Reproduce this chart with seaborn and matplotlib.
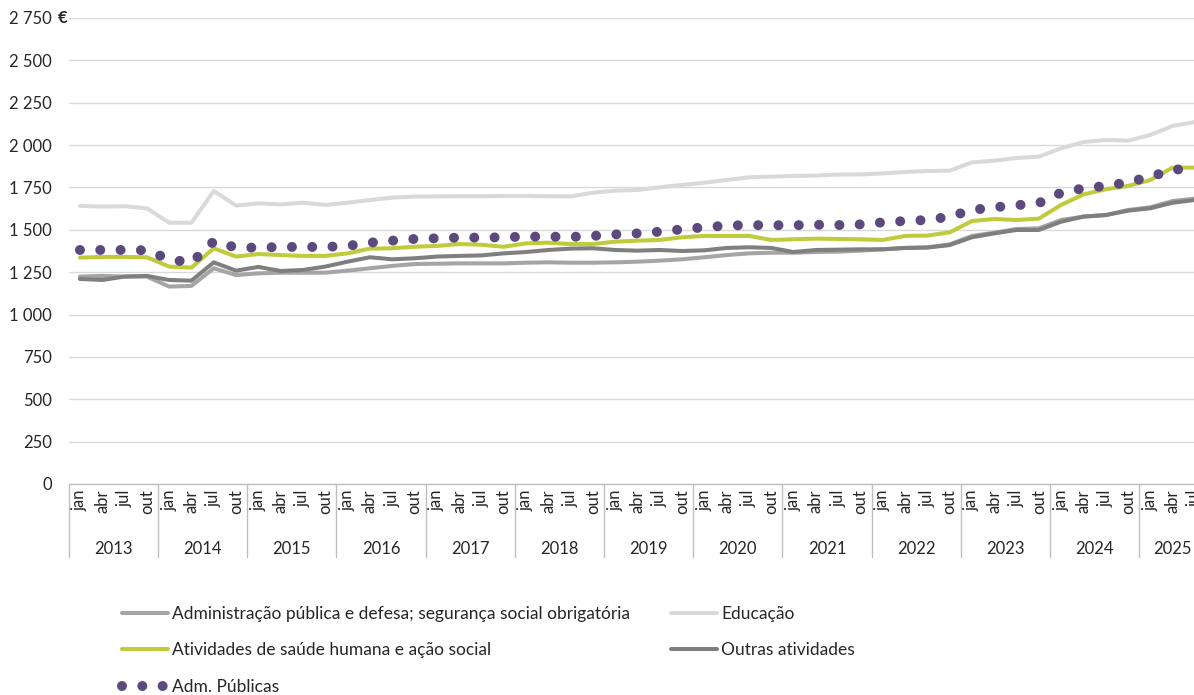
import matplotlib
matplotlib.use("Agg")
import matplotlib.pyplot as plt
import numpy as np
import pandas as pd
import seaborn as sns

# períodos trimestrais (jan 2013 .. jul 2025)
anos = list(range(2013, 2026))
meses = ["jan", "abr", "jul", "out"]
periodos = [(a, m) for a in anos for m in meses][:51]

adm_publica_defesa = [
    1224, 1228, 1224, 1224, 1165, 1169, 1273, 1233, 1243, 1247, 1247, 1247,
    1259, 1273, 1287, 1298, 1300, 1302, 1302, 1302, 1306, 1308, 1306, 1306,
    1308, 1312, 1318, 1326, 1338, 1351, 1361, 1365, 1365, 1369, 1371, 1377,
    1385, 1393, 1397, 1414, 1464, 1483, 1505, 1509, 1558, 1578, 1587, 1617,
    1633, 1670, 1684,
]
educacao = [
    1641, 1637, 1639, 1627, 1542, 1542, 1729, 1643, 1656, 1650, 1660, 1647,
    1660, 1676, 1690, 1696, 1697, 1698, 1698, 1700, 1700, 1698, 1697, 1719,
    1731, 1735, 1751, 1765, 1778, 1794, 1810, 1814, 1818, 1820, 1826, 1827,
    1833, 1841, 1847, 1849, 1898, 1908, 1924, 1932, 1981, 2018, 2030, 2026,
    2060, 2113, 2136,
]
saude_acao_social = [
    1336, 1340, 1340, 1338, 1283, 1277, 1391, 1342, 1357, 1351, 1346, 1346,
    1361, 1389, 1391, 1400, 1405, 1416, 1412, 1400, 1420, 1424, 1416, 1416,
    1430, 1436, 1440, 1456, 1464, 1464, 1464, 1440, 1444, 1448, 1446, 1444,
    1440, 1464, 1466, 1485, 1552, 1564, 1558, 1566, 1647, 1709, 1739, 1759,
    1794, 1867, 1867,
]
outras_atividades = [
    1210, 1204, 1224, 1228, 1204, 1200, 1308, 1259, 1281, 1257, 1263, 1283,
    1312, 1338, 1326, 1332, 1342, 1346, 1349, 1361, 1369, 1381, 1389, 1391,
    1381, 1377, 1381, 1375, 1379, 1393, 1397, 1393, 1369, 1381, 1383, 1385,
    1385, 1393, 1395, 1410, 1456, 1479, 1499, 1499, 1548, 1578, 1587, 1613,
    1627, 1660, 1676,
]
adm_publicas = [
    1381, 1381, 1381, 1379, 1326, 1306, 1432, 1395, 1395, 1399, 1399, 1399,
    1405, 1424, 1436, 1446, 1450, 1454, 1454, 1456, 1460, 1460, 1458, 1464,
    1473, 1479, 1489, 1503, 1515, 1525, 1528, 1527, 1527, 1530, 1528, 1532,
    1544, 1552, 1558, 1578, 1617, 1633, 1645, 1658, 1719, 1745, 1759, 1780,
    1814, 1853, 1867,
]

series = {
    "Administração pública e defesa; segurança social obrigatória": adm_publica_defesa,
    "Educação": educacao,
    "Atividades de saúde humana e ação social": saude_acao_social,
    "Outras atividades": outras_atividades,
    "Adm. Públicas": adm_publicas,
}
cores = {
    "Administração pública e defesa; segurança social obrigatória": "#a5a5a5",
    "Educação": "#d9d9d9",
    "Atividades de saúde humana e ação social": "#bfcb3a",
    "Outras atividades": "#7f7f7f",
    "Adm. Públicas": "#5c4a7e",
}

df = pd.DataFrame(
    [(i, nome, v) for nome, vals in series.items() for i, v in enumerate(vals)],
    columns=["periodo", "serie", "valor"],
)

sns.set_theme(style="white")
plt.rcParams["font.family"] = ["Lato", "DejaVu Sans"]
plt.rcParams["text.color"] = "#262626"

W, H = 1194, 695
fig = plt.figure(figsize=(W / 100, H / 100), dpi=100)
x0, x1, y0, y1 = 68.8, 68.8 + 51 * 22.3, 484, 18
ax = fig.add_axes([x0 / W, (H - y0) / H, (x1 - x0) / W, (y0 - y1) / H])

handles = {}
for nome in series:
    d = df[df["serie"] == nome]
    if nome == "Adm. Públicas":
        sns.lineplot(data=d, x="periodo", y="valor", ax=ax, color=cores[nome],
                     lw=7.2, linestyle=(0, (0.001, 2.03)), dash_capstyle="round",
                     zorder=5)
    else:
        sns.lineplot(data=d, x="periodo", y="valor", ax=ax, color=cores[nome],
                     lw=2.9, zorder=3)
    handles[nome] = ax.lines[-1]

ax.set_xlim(-0.5, 50.5)
ax.set_ylim(0, 2750)
ax.set_yticks(np.arange(0, 2751, 250))
ax.set_yticklabels([f"{v:,}".replace(",", " ") for v in range(0, 2751, 250)])
ax.yaxis.grid(True, color="#d9d9d9", lw=1)
ax.set_axisbelow(True)
for s in ["top", "right", "left"]:
    ax.spines[s].set_visible(False)
ax.spines["bottom"].set_color("#bfbfbf")
ax.spines["bottom"].set_linewidth(1)

ax.set_xticks(range(len(periodos)))
ax.set_xticklabels([m for _, m in periodos], rotation=90, fontsize=12)
ax.tick_params(axis="x", length=0, pad=4)
ax.tick_params(axis="y", length=0, pad=12, labelsize=12)
ax.set_xlabel("")
ax.set_ylabel("")

# anos e separadores do eixo de categorias
sep_y = (y0 - 557) / (y0 - y1)
for k, a in enumerate(anos):
    idx = [i for i, (aa, _) in enumerate(periodos) if aa == a]
    ax.text(np.mean(idx), (y0 - 549) / (y0 - y1), str(a), ha="center", va="center",
            fontsize=12, transform=ax.get_xaxis_transform())
    ax.axvline(4 * k - 0.5, ymin=sep_y, ymax=0, color="#bfbfbf", lw=1, clip_on=False)

fig.text(58 / W, (H - 18) / H, "€", fontsize=12, fontweight="bold", va="center")

ordem = [
    "Administração pública e defesa; segurança social obrigatória",
    "Atividades de saúde humana e ação social",
    "Adm. Públicas",
    "Educação",
    "Outras atividades",
]
fig.legend([handles[n] for n in ordem], ordem, ncol=2, loc="upper left",
           bbox_to_anchor=(122 / W, (H - 606) / H), frameon=False, fontsize=12.5,
           borderpad=0, borderaxespad=0, handlelength=2.65, handletextpad=0.25,
           columnspacing=2.35, labelspacing=1.18)

fig.savefig("out.png", dpi=100)
